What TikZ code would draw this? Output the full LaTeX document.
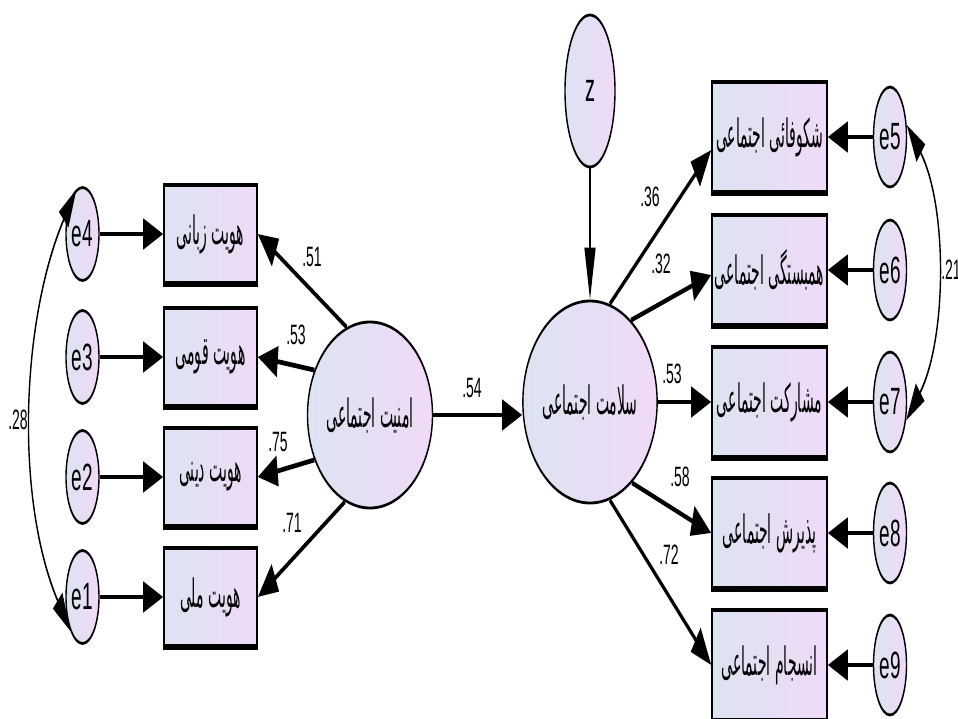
\documentclass[tikz,border=0pt]{standalone}
\usepackage{fontspec}
\setmainfont{Liberation Sans}
\newfontfamily\fa[Script=Arabic]{DejaVu Sans}
\TeXXeTstate=1
\usetikzlibrary{shapes.geometric,arrows.meta}
\newcommand{\fatxt}[1]{\scalebox{1}[1.4]{\beginR #1\endR}}

\begin{document}
\begin{tikzpicture}[x=0.5pt,y=-0.5pt]
\definecolor{lblue}{RGB}{220,227,241}
\definecolor{lpink}{RGB}{240,218,247}
\tikzstyle{obs} = [rectangle, draw, line width=1.6pt, left color=lblue, right color=lpink, inner sep=0, font=\fa\fontsize{14}{16}\selectfont]
\tikzstyle{lat} = [ellipse, draw, line width=1.4pt, left color=lblue, right color=lpink, inner sep=0, font=\fa\fontsize{14}{16}\selectfont]
\tikzstyle{err} = [ellipse, draw, line width=1.4pt, left color=lblue, right color=lpink, inner sep=0, minimum width=33pt, font=\fontsize{19}{19}\selectfont]
\tikzstyle{reg} = [line width=2.4pt, -{Triangle[length=20pt,width=15pt]}]
\tikzstyle{thinreg} = [line width=1.4pt, -{Triangle[length=26pt,width=11pt]}]
\tikzstyle{cov} = [line width=1.4pt, {Triangle[length=20pt,width=12pt]}-{Triangle[length=20pt,width=12pt]}]
\tikzstyle{wt} = [inner sep=0, font=\fontsize{14}{14}\selectfont]

\useasboundingbox (0,0) rectangle (958,718);

\begin{scope}[transform canvas={xscale=0.5}, x=1pt, y=-0.5pt]
\node[err, minimum height=46.5pt] (e4) at (82.5,234) {e4};
\node[err, minimum height=46.5pt] (e3) at (82.5,357) {e3};
\node[err, minimum height=46.5pt] (e2) at (82.5,477) {e2};
\node[err, minimum height=46.5pt] (e1) at (82.5,597) {e1};

\node[obs, minimum width=93pt, minimum height=49pt] (b4) at (210.5,234) {\fatxt{هویت زبانی}};
\node[obs, minimum width=93pt, minimum height=49pt] (b3) at (210.5,357) {\fatxt{هویت قومی}};
\node[obs, minimum width=93pt, minimum height=49pt] (b2) at (210.5,477) {\fatxt{هویت دینی}};
\node[obs, minimum width=93pt, minimum height=49pt] (b1) at (210.5,597) {\fatxt{هویت ملی}};

\node[lat, minimum width=125pt, minimum height=93pt] (amn) at (370,415) {\fatxt{امنیت اجتماعی}};
\node[lat, minimum width=124pt, minimum height=101pt] (sal) at (590,402) {\fatxt{سلامت اجتماعی}};
\node[lat, minimum width=50pt, minimum height=76pt, font=\fontsize{20}{20}\selectfont] (z) at (590,91) {z};

\node[obs, minimum width=115pt, minimum height=55pt] (r1) at (769.5,137) {\fatxt{شکوفائی اجتماعی}};
\node[obs, minimum width=115pt, minimum height=55pt] (r2) at (769.5,270) {\fatxt{همبستگی اجتماعی}};
\node[obs, minimum width=115pt, minimum height=55pt] (r3) at (769.5,402) {\fatxt{مشارکت اجتماعی}};
\node[obs, minimum width=115pt, minimum height=55pt] (r4) at (769.5,533) {\fatxt{پذیرش اجتماعی}};
\node[obs, minimum width=115pt, minimum height=55pt] (r5) at (769.5,665) {\fatxt{انسجام اجتماعی}};

\node[err, minimum height=50pt] (e5) at (890,137) {e5};
\node[err, minimum height=50pt] (e6) at (890,270) {e6};
\node[err, minimum height=50pt] (e7) at (890,402) {e7};
\node[err, minimum height=50pt] (e8) at (890,533) {e8};
\node[err, minimum height=50pt] (e9) at (890,665) {e9};

\foreach \n in {b1,b2,b3,b4,r1,r2,r3,r4,r5}
  \draw[line width=2.8pt] (\n.south west) -- (\n.south east);

\draw[reg] (e4) -- (b4);
\draw[reg] (e3) -- (b3);
\draw[reg] (e2) -- (b2);
\draw[reg] (e1) -- (b1);

\draw[reg] (amn.118) -- (b4.east);
\draw[reg] (amn.158) -- (b3.east);
\draw[reg] (amn.202) -- (b2.east);
\draw[reg] (amn.240) -- (b1.east);

\draw[reg] (amn.east) -- (sal.west |- amn.east);
\draw[thinreg] (z) -- (sal);

\draw[reg] (sal.68) -- ([yshift=-6.5pt]r1.west);
\draw[reg] (sal.45) -- ([yshift=-2.5pt]r2.west);
\draw[reg] (sal.east) -- (r3.west);
\draw[reg] (sal.-44) -- (r4.west);
\draw[reg] (sal.-68) -- (r5.west);

\draw[reg] (e5) -- (r1);
\draw[reg] (e6) -- (r2);
\draw[reg] (e7) -- (r3);
\draw[reg] (e8) -- (r4);
\draw[reg] (e9) -- (r5);

\draw[cov] (e4.105) to[out=230, in=130] (e1.235);
\draw[cov] (e5.20) to[out=-45, in=45] (e7.-30);

\node[wt] (w1) at (312,257) {.51};
\node[wt] (w2) at (296,335) {.53};
\node[wt] (w3) at (278,442) {.75};
\node[wt] (w4) at (292,523) {.71};
\node[wt] (w5) at (472,388) {.54};
\node[wt] (w6) at (650,197) {.36};
\node[wt] (w7) at (661,264) {.32};
\node[wt] (w8) at (672,374) {.53};
\node[wt] (w9) at (680,477) {.58};
\node[wt] (w10) at (669,555) {.72};
\node[wt] (w11) at (18,420) {.28};
\node[wt] (w12) at (951,270) {.21};
\end{scope}
\end{tikzpicture}
\end{document}
